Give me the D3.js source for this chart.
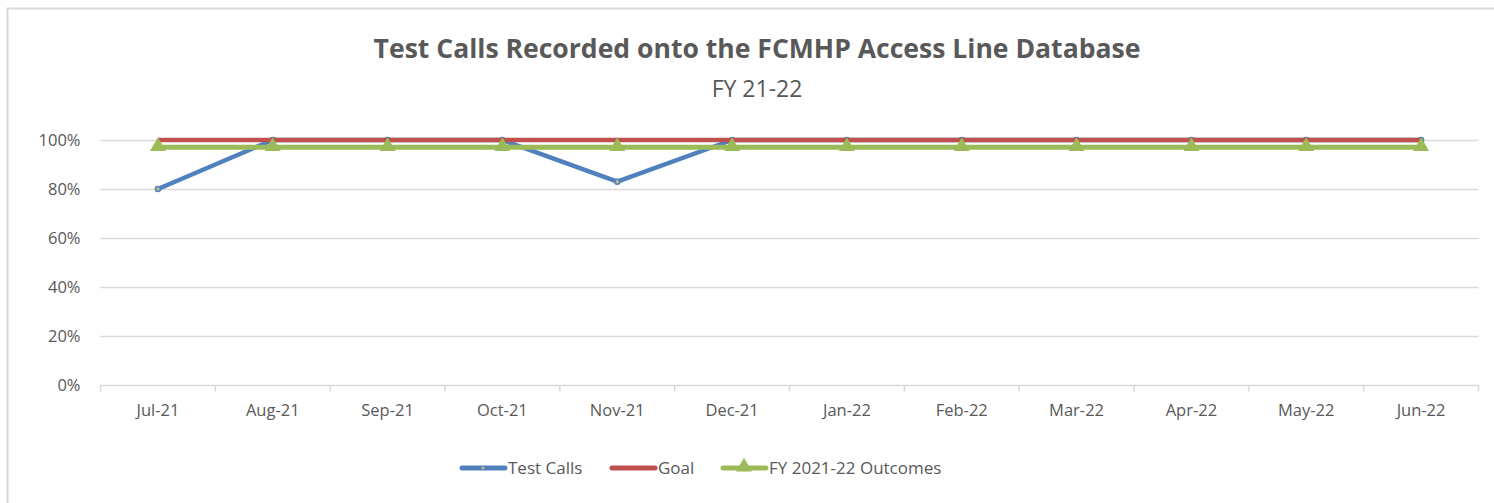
<!DOCTYPE html>
<html>
<head>
    <script src="https://d3js.org/d3.v7.min.js"></script>
    <style type="text/css">
        body { margin: 0; background: #fff; overflow: hidden; }
        svg { display: block; }
        text { font-family: "Open Sans", "Liberation Sans", sans-serif; fill: #595959; }
    </style>
</head>
<body>
    <script type="text/javascript">

        // chart data
        var months = ["Jul-21", "Aug-21", "Sep-21", "Oct-21", "Nov-21", "Dec-21",
                      "Jan-22", "Feb-22", "Mar-22", "Apr-22", "May-22", "Jun-22"];
        var testCalls = [0.80, 1, 1, 1, 0.83, 1, 1, 1, 1, 1, 1, 1];
        var goal = [1, 1, 1, 1, 1, 1, 1, 1, 1, 1, 1, 1];
        var outcomes = [0.97, 0.97, 0.97, 0.97, 0.97, 0.97, 0.97, 0.97, 0.97, 0.97, 0.97, 0.97];
        var yTicks = [0, 0.2, 0.4, 0.6, 0.8, 1];
        var seriesNames = ["Test Calls", "Goal", "FY 2021-22 Outcomes"];

        var w = 1494;
        var h = 503;

        var svg = d3.select("body")
            .append("svg")
            .attr("width", w)
            .attr("height", h);

        // chart border (right / bottom edges fall outside the picture)
        svg.append("rect")
            .attr("x", 7.5).attr("y", 8.5)
            .attr("width", w + 10).attr("height", h + 10)
            .attr("fill", "none")
            .attr("stroke", "#d9d9d9")
            .attr("stroke-width", 2);

        var plotLeft = 100.5, plotRight = 1478.5, plotTop = 140, plotBottom = 385;

        var xScale = d3.scalePoint()
            .domain(months)
            .range([plotLeft, plotRight])
            .padding(0.5);

        var yScale = d3.scaleLinear()
            .domain([0, 1])
            .range([plotBottom, plotTop]);

        // gridlines
        svg.append("g")
            .selectAll("line")
            .data(yTicks.slice(1))
            .enter()
            .append("line")
            .attr("x1", plotLeft).attr("x2", plotRight)
            .attr("y1", function(d) { return Math.round(yScale(d)) + 0.5; })
            .attr("y2", function(d) { return Math.round(yScale(d)) + 0.5; })
            .attr("stroke", "#d9d9d9")
            .attr("stroke-width", 1.5);

        // y axis labels
        var yAxis = d3.axisLeft(yScale)
            .tickValues(yTicks)
            .tickFormat(d3.format(".0%"))
            .tickSize(0)
            .tickPadding(20);
        var yg = svg.append("g")
            .attr("transform", "translate(" + plotLeft + ",0)")
            .call(yAxis);
        yg.select(".domain").remove();
        yg.selectAll("text")
            .attr("font-size", 16.5)
            .style("font-family", "'Open Sans', sans-serif")
            .style("fill", "#595959");

        // x axis with boundary tick marks
        var step = xScale.step();
        var xg = svg.append("g")
            .attr("transform", "translate(0," + (Math.round(plotBottom) + 0.5) + ")");
        xg.append("line")
            .attr("x1", plotLeft).attr("x2", plotRight)
            .attr("stroke", "#d9d9d9").attr("stroke-width", 1.5);
        xg.selectAll("line.tk")
            .data(d3.range(months.length + 1))
            .enter()
            .append("line")
            .attr("class", "tk")
            .attr("x1", function(i) { return plotLeft + i * step; })
            .attr("x2", function(i) { return plotLeft + i * step; })
            .attr("y1", 0).attr("y2", 6)
            .attr("stroke", "#d9d9d9").attr("stroke-width", 1.5);
        xg.selectAll("text")
            .data(months)
            .enter()
            .append("text")
            .attr("x", function(d) { return xScale(d); })
            .attr("y", 30)
            .attr("text-anchor", "middle")
            .attr("font-size", 16.5)
            .text(function(d) { return d; });

        var line = d3.line()
            .x(function(d, i) { return xScale(months[i]); })
            .y(function(d) { return yScale(d); });

        // Test Calls
        svg.append("path")
            .datum(testCalls)
            .attr("d", line)
            .attr("fill", "none")
            .attr("stroke", "#4f81bd")
            .attr("stroke-width", 4.5)
            .attr("stroke-linejoin", "round")
            .attr("stroke-linecap", "round");
        svg.selectAll("circle.tc")
            .data(testCalls)
            .enter()
            .append("circle")
            .attr("class", "tc")
            .attr("cx", function(d, i) { return xScale(months[i]); })
            .attr("cy", function(d) { return yScale(d); })
            .attr("r", 2.5)
            .attr("fill", "#c5b88a")
            .attr("stroke", "#4f81bd")
            .attr("stroke-width", 1.5);

        // Goal
        svg.append("path")
            .datum(goal)
            .attr("d", line)
            .attr("fill", "none")
            .attr("stroke", "#c0504d")
            .attr("stroke-width", 4.5);

        // Outcomes
        svg.append("path")
            .datum(outcomes)
            .attr("d", line)
            .attr("fill", "none")
            .attr("stroke", "#9bbb59")
            .attr("stroke-width", 5);
        var tri = d3.symbol().type(d3.symbolTriangle).size(110);
        svg.selectAll("path.tri")
            .data(outcomes)
            .enter()
            .append("path")
            .attr("class", "tri")
            .attr("d", tri)
            .attr("transform", function(d, i) {
                return "translate(" + xScale(months[i]) + "," + (yScale(d) - 1) + ")";
            })
            .attr("fill", "#9bbb59");

        // titles
        var t1 = svg.append("text")
            .attr("x", 757).attr("y", 58)
            .attr("text-anchor", "middle")
            .attr("font-size", 22)
            .attr("font-weight", "bold")
            .text("Test Calls Recorded onto the FCMHP Access Line Database");
        var tw = t1.node().getComputedTextLength();
        t1.attr("font-size", 22 * 767 / tw);
        svg.append("text")
            .attr("x", 757).attr("y", 97)
            .attr("text-anchor", "middle")
            .attr("font-size", 23)
            .text("FY 21-22");

        // legend
        var legendX = [460, 610, 721];
        var lg = svg.append("g").attr("transform", "translate(0,468)");
        var colors = ["#4f81bd", "#c0504d", "#9bbb59"];
        seriesNames.forEach(function(name, i) {
            var x0 = legendX[i];
            lg.append("line")
                .attr("x1", x0 + 2).attr("x2", x0 + 45)
                .attr("y1", 0).attr("y2", 0)
                .attr("stroke", colors[i]).attr("stroke-width", 5)
                .attr("stroke-linecap", "round");
            if (i === 0) {
                lg.append("circle").attr("cx", x0 + 23).attr("cy", 0).attr("r", 1.5)
                    .attr("fill", "#c5b88a");
            }
            if (i === 2) {
                lg.append("path").attr("d", tri)
                    .attr("transform", "translate(" + (x0 + 23) + ",-1)")
                    .attr("fill", colors[i]);
            }
            lg.append("text")
                .attr("x", x0 + 48).attr("y", 6)
                .attr("font-size", 17)
                .text(name);
        });

    </script>
</body>
</html>
